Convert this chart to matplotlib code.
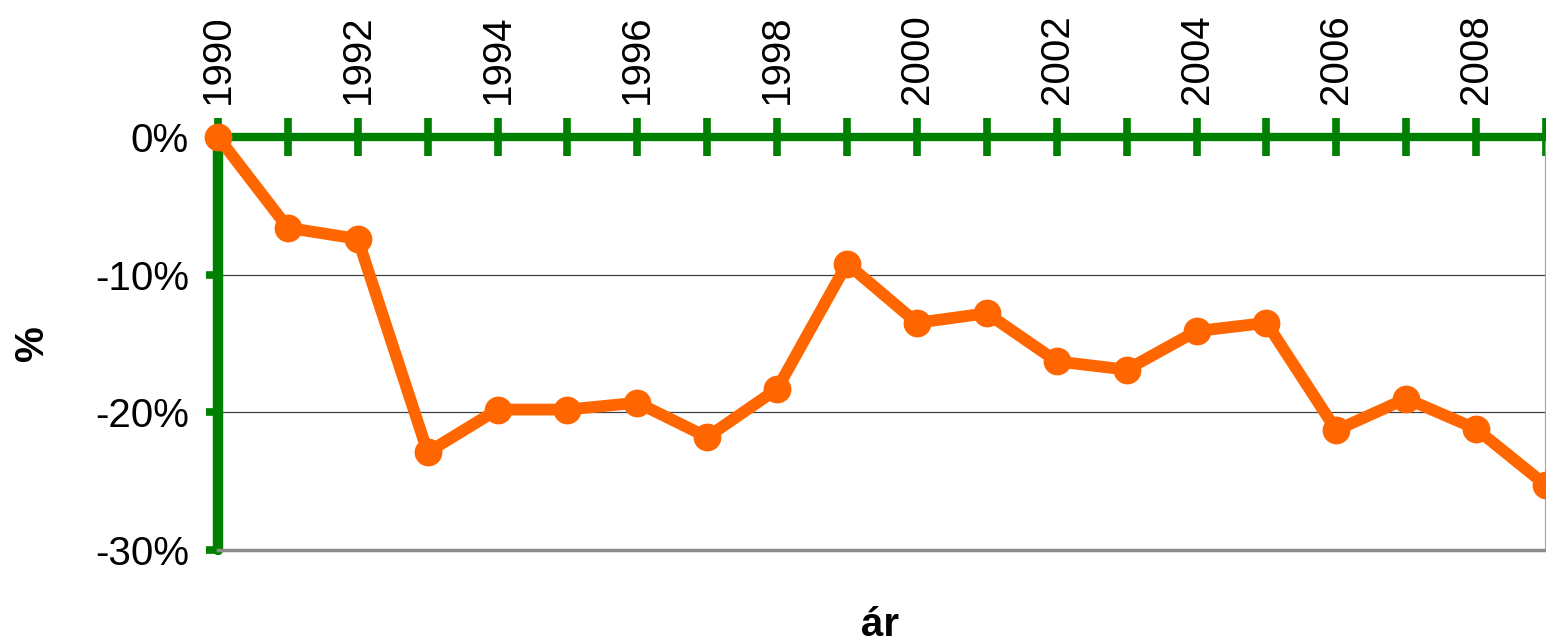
import numpy as np
import matplotlib
matplotlib.use("Agg")
import matplotlib.pyplot as plt
from matplotlib.ticker import FuncFormatter, MultipleLocator

plt.rcParams['font.family'] = ['Liberation Sans', 'DejaVu Sans']

# adatok (%-os változás 1990-hez képest)
years = list(range(1990, 2010))
change = [0.0, -6.6, -7.4, -22.9, -19.8, -19.8, -19.3, -21.8, -18.3, -9.2,
          -13.5, -12.8, -16.3, -16.9, -14.1, -13.5, -21.3, -19.0, -21.2, -25.3]

green = '#008000'
orange = '#FF6600'

fig = plt.figure(figsize=(15.46, 6.44), dpi=100)
ax = fig.add_axes([218 / 1546, 1 - 550 / 644, 1 - 218 / 1546, (550 - 137) / 644])

ax.plot(years, change, color=orange, lw=8.5, marker='o', ms=19,
        solid_joinstyle='round', solid_capstyle='round', zorder=5, clip_on=False)

ax.set_xlim(1990, 2009)
ax.set_ylim(-30, 0)

# x tengely felül
ax.xaxis.tick_top()
ax.set_xticks(years)
ax.set_xticklabels([str(y) if y % 2 == 0 else '' for y in years], rotation=90)
ax.tick_params(axis='x', direction='inout', length=28, width=5.5,
               color=green, labelsize=29, pad=10)

ax.yaxis.set_major_locator(MultipleLocator(10))
ax.yaxis.set_major_formatter(FuncFormatter(lambda v, p: f'{v:.0f}%'))
ax.tick_params(axis='y', direction='out', length=9, width=5.5, color=green,
               labelsize=29, pad=12)

ax.spines['top'].set_color(green)
ax.spines['top'].set_linewidth(6)
ax.spines['top'].set_capstyle('round')
ax.spines['left'].set_color(green)
ax.spines['left'].set_linewidth(7.5)
ax.spines['left'].set_capstyle('round')
ax.spines['bottom'].set_color('#8c8c8c')
ax.spines['bottom'].set_linewidth(2.5)
ax.spines['right'].set_color('#a0a0a0')
ax.spines['right'].set_linewidth(1.5)

for v in (-10, -20):
    ax.axhline(v, color='#404040', lw=0.9, zorder=1)

fig.text(32 / 1546, 1 - 343 / 644, '%', rotation=90, ha='center', va='center',
         fontsize=29, fontweight='bold')
fig.text(880 / 1546, 0.012, 'ár', ha='center', va='baseline',
         fontsize=29, fontweight='bold')

fig.savefig('out.png', dpi=100)
